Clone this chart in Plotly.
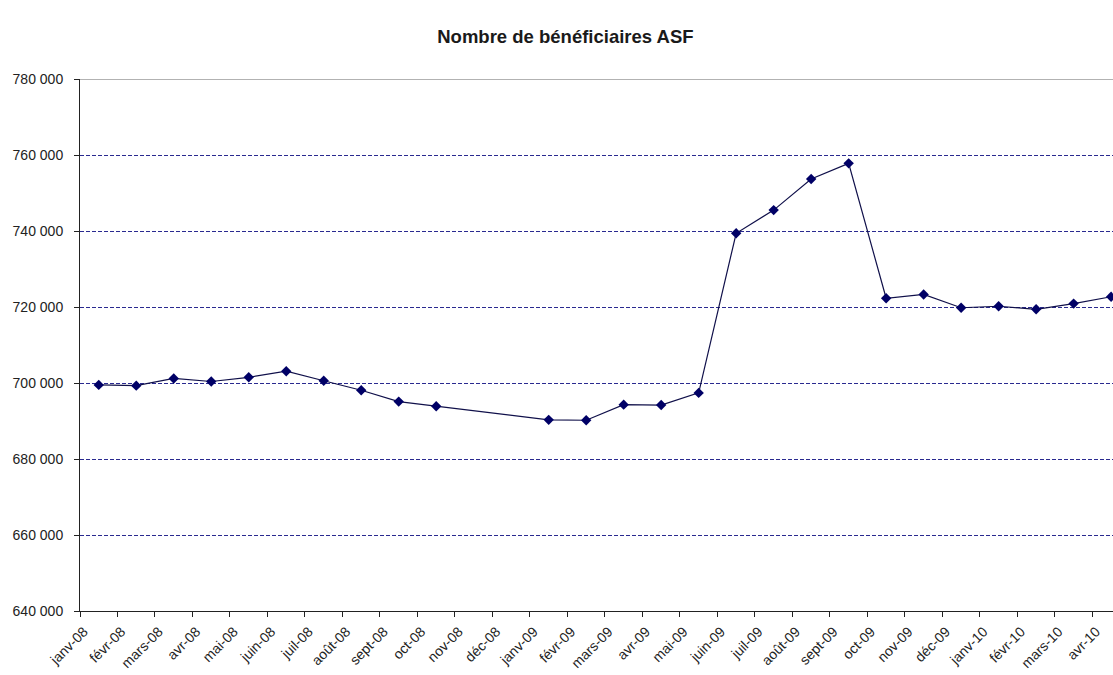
import plotly.graph_objects as go

# Monthly categories, janv-08 to avr-10
months = ["janv-08", "févr-08", "mars-08", "avr-08", "mai-08", "juin-08",
          "juil-08", "août-08", "sept-08", "oct-08", "nov-08", "déc-08",
          "janv-09", "févr-09", "mars-09", "avr-09", "mai-09", "juin-09",
          "juil-09", "août-09", "sept-09", "oct-09", "nov-09", "déc-09",
          "janv-10", "févr-10", "mars-10", "avr-10"]

# Number of ASF beneficiaries (nov-08 and déc-08 not available)
beneficiaires = [699500, 699300, 701200, 700400, 701500, 703100,
                 700600, 698100, 695100, 693900, None, None,
                 690300, 690200, 694300, 694200, 697400, 739400,
                 745500, 753700, 757800, 722300, 723300, 719800,
                 720200, 719400, 720900, 722700]

y_ticks = [640000, 660000, 680000, 700000, 720000, 740000, 760000, 780000]

fig = go.Figure()
fig.add_trace(go.Scatter(
    x=months, y=beneficiaires, mode="lines+markers", connectgaps=True,
    line=dict(color="#10104a", width=1.2),
    marker=dict(symbol="diamond", size=8, color="#000066"),
    showlegend=False,
))

# solid grey border along the top of the plot area
fig.add_shape(type="line", xref="paper", yref="y", x0=0, x1=1,
              y0=y_ticks[-1], y1=y_ticks[-1],
              line=dict(color="#999999", width=1.5), layer="below")

fig.update_layout(
    width=1113, height=675,
    margin=dict(l=80, r=0, t=79, b=64),
    paper_bgcolor="white", plot_bgcolor="white",
    separators=", ",
    font=dict(family="Arial, Liberation Sans, sans-serif", size=14, color="#222222"),
    title=dict(text="<b>Nombre de bénéficiaires ASF</b>", x=0.508, xanchor="center",
               y=1 - 37 / 675, yanchor="middle", yref="container",
               font=dict(size=18.5, color="#1a1a1a")),
    xaxis=dict(
        type="category", categoryorder="array", categoryarray=months,
        range=[-0.5, 27.05], tickangle=-45, tickson="boundaries",
        ticks="outside", ticklen=5, tickcolor="#222222",
        showline=True, linecolor="#222222", linewidth=1,
        showgrid=False, zeroline=False, ticklabelshift=-15,
        ticklabelstandoff=6,
        tickfont=dict(size=14),
    ),
    yaxis=dict(
        range=[640000, 780000], tickvals=y_ticks, tickformat=",d",
        ticks="outside", ticklen=5, tickcolor="#222222",
        showline=True, linecolor="#222222", linewidth=1,
        showgrid=True, gridcolor="#2a2a90", gridwidth=1, griddash="4px,2px",
        zeroline=False, ticklabelstandoff=8,
        tickfont=dict(size=14),
    ),
)

fig.write_html("out.html")
